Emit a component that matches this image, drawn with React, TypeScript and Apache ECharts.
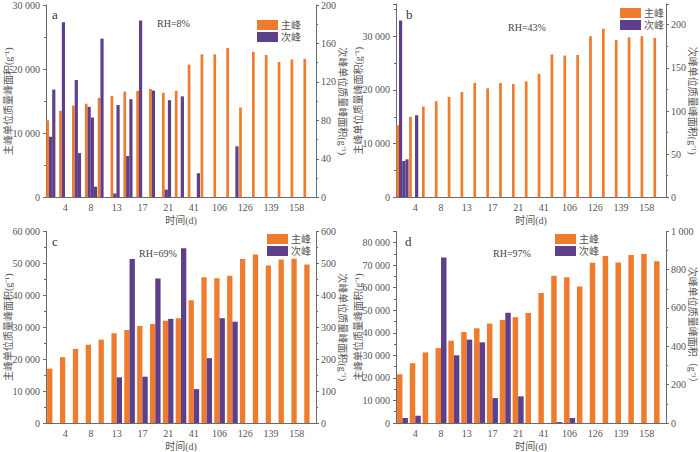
import React, { useEffect, useRef } from "react";
import * as echarts from "echarts";

// ---- data ----
const dayLabels = ["", "4", "", "8", "", "13", "", "17", "", "21", "", "41", "", "106", "", "126", "", "139", "", "158", ""];

const aMain = [12000, 13500, 14300, 14600, 15500, 15800, 16500, 16600, 16900, 16300, 16600, 20700, 22300, 22300, 23300, 14000, 22700, 22200, 21100, 21500, 21600];
const aSub1 = [63, 182, 122, 94, 165, 4, 43, 184, 111, 8, null, null, null, null, null, null, null, null, null, null, null];
const aSub2 = [112, null, 46, 83, null, 96, 102, null, null, 101, 105, null, null, null, null, null, null, null, null, null, null];
const aSub3 = [null, null, null, 11, null, null, null, null, null, null, null, 25, null, null, 53, null, null, null, null, null, null];

const bMain = [13400, 15000, 16900, 17900, 18700, 19600, 21300, 20300, 21300, 21100, 21600, 23000, 26600, 26400, 26500, 30000, 31400, 29300, 29800, 30000, 29700];
const bSub1 = [205, null, null, null, null, null, null, null, null, null, null, null, null, null, null, null, null, null, null, null, null];
const bSub2 = [42, 95, null, null, null, null, null, null, null, null, null, null, null, null, null, null, null, null, null, null, null];
const bSub3 = [44, null, null, null, null, null, null, null, null, null, null, null, null, null, null, null, null, null, null, null, null];

const cMain = [17000, 20600, 23200, 24500, 26100, 28100, 29100, 30400, 31000, 32000, 32800, 38400, 45600, 45300, 46100, 51300, 52700, 49300, 51200, 51400, 49600];
const cSub = [null, null, null, null, null, 143, 513, 145, 452, 326, 547, 106, 203, 328, 317, null, null, null, null, null, null];

const dMain = [21600, 26500, 31300, 33200, 36500, 40300, 42000, 44100, 45700, 46900, 48800, 57600, 65300, 64600, 60500, 71000, 74000, 71200, 74500, 74900, 71700];
const dSub = [26, 38, null, 863, 353, 435, 421, 130, 575, 139, null, null, 5, 26, null, null, null, null, null, null, null];

const rhLabels = ["RH=8%", "RH=43%", "RH=69%", "RH=97%"];
const panelLetters = ["a", "b", "c", "d"];

const ORANGE = "#EF7B2D";
const PURPLE = "#5E3F8A";
const AXIS = "#6a6a6a";
const TEXT = "#555";
const FONT = "'Liberation Serif', 'Noto Sans CJK SC', serif";

const fmt = (v: number) => (v >= 1000 ? String(v).replace(/\B(?=(\d{3})+(?!\d))/g, " ") : String(v));

type Panel = {
  left: number; top: number; width: number; height: number;
  lMax: number; lInt: number; rMax: number; rInt: number;
  main: (number | null)[]; subs: (number | null)[][];
  mainW: number; subW: number;
  legend: [number, number]; rh: [number, number]; letter: [number, number];
  rightName: string;
};

const panels: Panel[] = [
  { left: 46, top: 4, width: 270, height: 193.3, lMax: 30000, lInt: 10000, rMax: 200, rInt: 40,
    main: aMain, subs: [aSub1, aSub2, aSub3], mainW: 2.7, subW: 3.2,
    legend: [257, 20], rh: [157, 18], letter: [52, 8], rightName: "次峰单位质量峰面积(g⁻¹)" },
  { left: 396, top: 4, width: 270, height: 193.3, lMax: 36000, lInt: 10000, rMax: 224, rInt: 50,
    main: bMain, subs: [bSub1, bSub2, bSub3], mainW: 2.7, subW: 3.2,
    legend: [620, 8], rh: [508, 22], letter: [406, 8], rightName: "次峰单位质量峰面积(g⁻¹)" },
  { left: 46, top: 231.3, width: 270, height: 194, lMax: 60000, lInt: 10000, rMax: 600, rInt: 100,
    main: cMain, subs: [cSub], mainW: 5.3, subW: 5.3,
    legend: [267, 234], rh: [139, 248], letter: [52, 235], rightName: "次峰单位质量峰面积(g⁻¹)" },
  { left: 396, top: 231.3, width: 270, height: 194, lMax: 85000, lInt: 10000, rMax: 1000, rInt: 200,
    main: dMain, subs: [dSub], mainW: 5.5, subW: 5.5,
    legend: [555, 234], rh: [493, 248], letter: [405, 235], rightName: "次峰单位质量峰面积（g⁻¹）" },
];

export default function App() {
  const ref = useRef<HTMLDivElement>(null);
  useEffect(() => {
    document.body.style.margin = "0";
    if (!ref.current) return;
    const chart = echarts.init(ref.current, undefined, { renderer: "svg" });

    const grid: any[] = [];
    const xAxis: any[] = [];
    const yAxis: any[] = [];
    const series: any[] = [];
    const legend: any[] = [];
    const graphic: any[] = [];

    panels.forEach((p, k) => {
      grid.push({ left: p.left, top: p.top, width: p.width, height: p.height });
      xAxis.push({
        type: "category", gridIndex: k, data: dayLabels.map((_, i) => String(i)),
        boundaryGap: true,
        name: "时间(d)", nameLocation: "middle", nameGap: 18, nameMoveOverlap: false,
        nameTextStyle: { color: TEXT, fontSize: 10, fontFamily: FONT },
        axisLine: { lineStyle: { color: AXIS, width: 1 } },
        axisTick: { alignWithLabel: true, interval: 0, length: 3, lineStyle: { color: AXIS } },
        axisLabel: { interval: 0, margin: 5, color: TEXT, fontSize: 10, fontFamily: FONT,
          formatter: (_v: string, i: number) => dayLabels[i] },
        splitLine: { show: false },
      });
      const yBase = {
        type: "value", gridIndex: k, min: 0,
        nameLocation: "middle", nameMoveOverlap: false,
        nameTextStyle: { color: TEXT, fontSize: 10, fontFamily: FONT },
        axisLine: { show: true, lineStyle: { color: AXIS, width: 1 } },
        axisTick: { show: true, length: 3, lineStyle: { color: AXIS } },
        minorTick: { show: true, splitNumber: 2, length: 2, lineStyle: { color: AXIS } },
        splitLine: { show: false },
      };
      yAxis.push({
        ...yBase, position: "left", max: p.lMax, interval: p.lInt,
        name: "主峰单位质量峰面积(g⁻¹)", nameGap: 33,
        axisLabel: { margin: 6, color: TEXT, fontSize: 10, fontFamily: FONT, formatter: fmt,
          showMaxLabel: p.lMax % p.lInt === 0 },
      });
      yAxis.push({
        ...yBase, position: "right", max: p.rMax, interval: p.rInt,
        name: p.rightName, nameGap: 22, nameRotate: -90,
        axisLabel: { margin: 5, color: TEXT, fontSize: 10, fontFamily: FONT, formatter: fmt,
          showMaxLabel: p.rMax % p.rInt === 0 },
      });
      series.push({
        type: "bar", name: "主峰", xAxisIndex: k, yAxisIndex: 2 * k, data: p.main,
        barWidth: p.mainW, barGap: "0%", itemStyle: { color: ORANGE }, silent: true,
      });
      p.subs.forEach((s) => {
        series.push({
          type: "bar", name: "次峰", xAxisIndex: k, yAxisIndex: 2 * k + 1, data: s,
          barWidth: p.subW, barGap: "0%", itemStyle: { color: PURPLE }, silent: true,
        });
      });
      legend.push({
        left: p.legend[0], top: p.legend[1], orient: "vertical", icon: "rect",
        itemWidth: 21, itemHeight: 10, itemGap: 2, data: ["主峰", "次峰"],
        textStyle: { color: TEXT, fontSize: 10, fontFamily: FONT, padding: [0, 0, 0, -2] },
        selectedMode: false, padding: 0,
      });
      graphic.push({
        type: "text", left: p.letter[0], top: p.letter[1],
        style: { text: panelLetters[k], fontSize: 13, fontFamily: FONT, fill: "#333" },
      });
      graphic.push({
        type: "text", left: p.rh[0], top: p.rh[1],
        style: { text: rhLabels[k], fontSize: 10, fontFamily: FONT, fill: "#444" },
      });
    });

    chart.setOption({
      animation: false,
      backgroundColor: "#fff",
      textStyle: { fontFamily: FONT },
      grid, xAxis, yAxis, series, legend, graphic,
    });
    return () => chart.dispose();
  }, []);
  return <div ref={ref} style={{ width: 700, height: 452 }} />;
}
